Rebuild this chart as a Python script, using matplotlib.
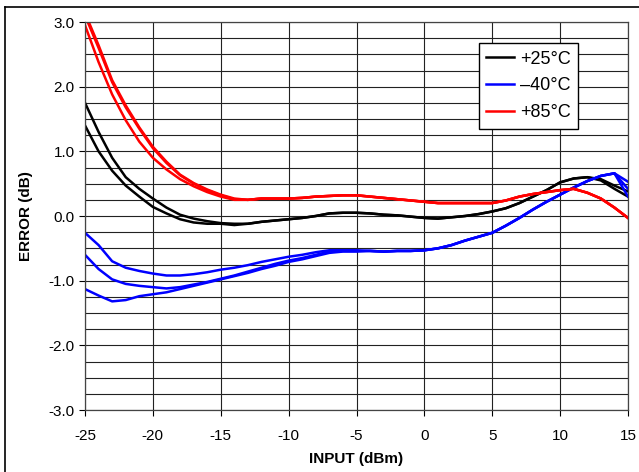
import matplotlib.pyplot as plt
from matplotlib.lines import Line2D
import numpy as np

plt.rcParams['font.family'] = ['Liberation Sans', 'DejaVu Sans']
plt.rcParams['axes.unicode_minus'] = False

# input level, dBm (integer steps)
x = np.arange(-25, 16)

# +25C, two devices: head differs (-25..-14), then they share the rest
blk_head_a = [1.75, 1.30, 0.90, 0.60, 0.42, 0.27, 0.13, 0.02, -0.04, -0.08, -0.11, -0.12]
blk_head_b = [1.40, 1.00, 0.70, 0.47, 0.30, 0.14, 0.04, -0.05, -0.10, -0.12, -0.12, -0.14]
blk_mid = [-0.12, -0.09, -0.07, -0.05, -0.03, 0.00, 0.04, 0.05, 0.05, 0.04, 0.02, 0.01,
           -0.01, -0.03, -0.04, -0.02, 0.00, 0.03, 0.07, 0.12, 0.20, 0.30, 0.40, 0.52,
           0.58, 0.60]
blk_end_a = [0.57, 0.47, 0.38]
blk_end_b = [0.55, 0.42, 0.30]

# -40C, three devices
blu_head_a = [-0.26, -0.45, -0.70, -0.80, -0.85, -0.89, -0.92, -0.92, -0.90, -0.87, -0.83,
              -0.80, -0.76, -0.71, -0.67, -0.63, -0.60, -0.56, -0.53, -0.53, -0.53]
blu_head_b = [-0.60, -0.82, -0.98, -1.05, -1.08, -1.10, -1.12, -1.10, -1.06, -1.02, -0.97,
              -0.92, -0.86, -0.80, -0.74, -0.69, -0.65, -0.60, -0.55, -0.54, -0.54]
blu_head_c = [-1.13, -1.23, -1.32, -1.30, -1.24, -1.21, -1.18, -1.13, -1.08, -1.03, -0.98,
              -0.93, -0.88, -0.82, -0.77, -0.71, -0.67, -0.62, -0.57, -0.55, -0.55]
blu_mid = [-0.54, -0.55, -0.54, -0.54, -0.53, -0.50, -0.45, -0.38, -0.32, -0.26, -0.15,
           -0.03, 0.10, 0.22, 0.33, 0.44, 0.54, 0.62, 0.66]
blu_end_a = [0.53]
blu_end_b = [0.42]
blu_end_c = [0.30]

# +85C, three devices
red_head_a = [3.10, 2.60, 2.07, 1.68, 1.35, 1.05, 0.82, 0.63, 0.50, 0.40, 0.32, 0.26]
red_head_b = [3.14, 2.64, 2.10, 1.71, 1.37, 1.07, 0.84, 0.64, 0.51, 0.41, 0.33, 0.27]
red_head_c = [2.95, 2.38, 1.88, 1.48, 1.15, 0.90, 0.72, 0.57, 0.46, 0.37, 0.30, 0.25]
red_mid = [0.25, 0.27, 0.27, 0.27, 0.28, 0.30, 0.31, 0.32, 0.32, 0.30, 0.28, 0.26,
           0.24, 0.22, 0.20, 0.20, 0.20, 0.20, 0.20, 0.24, 0.30, 0.34, 0.37, 0.40,
           0.42, 0.36, 0.27, 0.13, -0.03]

series = [
    ('black', [blk_head_a + blk_mid + blk_end_a, blk_head_b + blk_mid + blk_end_b]),
    ('#0000ff', [blu_head_a + blu_mid + blu_end_a, blu_head_b + blu_mid + blu_end_b,
                 blu_head_c + blu_mid + blu_end_c]),
    ('#ff0000', [red_head_a + red_mid, red_head_b + red_mid, red_head_c + red_mid]),
]
labels = ['+25°C', '–40°C', '+85°C']

fig = plt.figure(figsize=(6.39, 4.72), dpi=100)
ax = fig.add_axes([85/639, 1-410/472, 543/639, 388/472])

for color, curves in series:
    for y in curves:
        ax.plot(x, y, color=color, lw=1.8, solid_joinstyle='round', clip_on=True)

ax.set_xlim(-25, 15)
ax.set_ylim(-3, 3)
ax.set_xticks(np.arange(-25, 16, 5))
ax.set_yticks(np.arange(-3, 3.1, 1.0))
ax.set_yticks(np.arange(-3, 3.01, 0.25), minor=True)
ax.set_yticklabels(['%.1f' % v for v in np.arange(-3, 3.1, 1.0)])
ax.tick_params(axis='both', which='major', direction='out', length=4, width=0.8,
               labelsize=11, color='black')
ax.tick_params(axis='y', which='minor', length=0)
ax.tick_params(axis='x', pad=10)
ax.grid(True, which='both', axis='y', color='#222222', lw=0.8)
ax.grid(True, which='major', axis='x', color='#222222', lw=0.8)
ax.set_axisbelow(True)
for s in ax.spines.values():
    s.set_color('#444444')
    s.set_linewidth(0.9)

ax.set_xlabel('INPUT (dBm)', fontsize=11, fontweight='bold', labelpad=6)
ax.set_ylabel('ERROR (dB)', fontsize=11, fontweight='bold', labelpad=11)

handles = [Line2D([], [], color=c, lw=1.8) for c, _ in series]
leg = ax.legend(handles, labels, loc='upper left', bbox_to_anchor=(0.726, 0.945),
                fontsize=13, frameon=True, fancybox=False, framealpha=1,
                edgecolor='black', handlelength=1.55, handletextpad=0.3,
                borderpad=0.4, labelspacing=0.55, borderaxespad=0)
leg.get_frame().set_linewidth(1.0)

# outer chart border
fig.add_artist(Line2D([5/639, 1], [1-7/472, 1-7/472], color='black', lw=1.2,
                      transform=fig.transFigure))
fig.add_artist(Line2D([5/639, 5/639], [0, 1-7/472], color='black', lw=1.2,
                      transform=fig.transFigure))

fig.savefig('out.png', dpi=100)
